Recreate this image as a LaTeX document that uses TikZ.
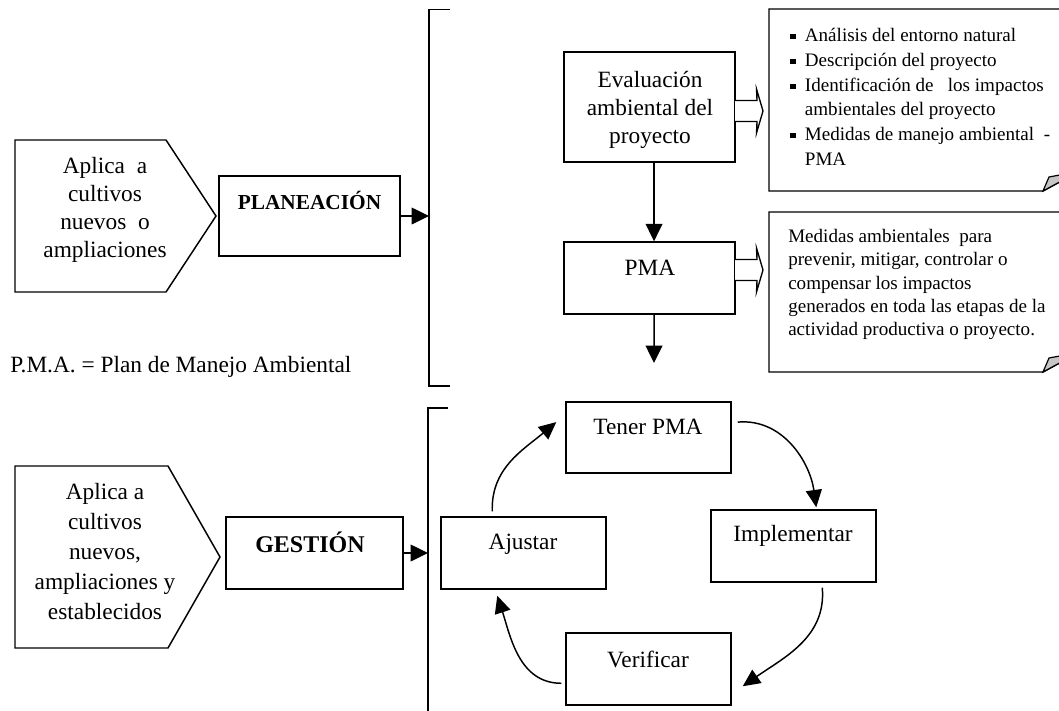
\documentclass[tikz,border=0pt]{standalone}
\usepackage{fontspec}
\setmainfont{Liberation Serif}
\usetikzlibrary{arrows.meta}
\begin{document}
\begin{tikzpicture}[x=0.75pt,y=-0.75pt,
  boxx/.style={draw, line width=1.1pt, inner sep=0pt},
  big/.style={font=\fontsize{17.5}{21}\selectfont, align=center, inner sep=0pt},
  small/.style={font=\fontsize{14.3}{17.5}\selectfont, align=left, inner sep=0pt},
  arr/.style={-{Triangle[length=13pt,width=12.5pt]}, line width=1.1pt},
  carr/.style={-{Triangle[length=13pt,width=12pt]}, line width=1.1pt},
  brk/.style={line width=1pt},
  hol/.pic={\draw[line width=1pt, fill=white] (0,-10.5) -- (22,-10.5) -- (21.5,-22) -- (28,0) -- (21.5,22) -- (22,10.5) -- (0,10.5);}
]
\useasboundingbox (0,0) rectangle (1059,710);

% ---------- PLANEACION row ----------
\draw[line width=1.1pt] (15,140) -- (166,140) -- (216,216) -- (166,292) -- (15,292) -- cycle;
\node[big] (pent1) at (105,210) {Aplica\ \ a\\cultivos\\nuevos\ \ o\\ampliaciones};
\node[boxx, minimum width=135.75pt, minimum height=60pt] (plan) at (309.5,216) {};
\node[inner sep=0pt, font=\fontsize{16}{19}\selectfont\bfseries] (plant) at (309.5,200) {PLANEACIÓN};
\coordinate (b1top) at (429,9.5);
\coordinate (b1bot) at (429,386);
\coordinate (b1mid) at (429,216);
\draw[brk] (450,9.5) -- (b1top) -- (b1bot) -- (450,386);
\draw[arr] (plan.east) -- (b1mid);

\node[big, anchor=west] (pmadef) at (10,367) {P.M.A. = Plan de Manejo Ambiental};

% evaluation chain
\node[boxx, minimum width=128.25pt, minimum height=82.5pt] (eval) at (649.5,107) {};
\node[big] (evalt) at (650,110) {Evaluación\\ambiental del\\proyecto};
\node[boxx, minimum width=128.25pt, minimum height=54pt] (pma) at (649.5,278) {};
\node[big] (pmat) at (650,268) {PMA};
\draw[arr] ([xshift=3.4pt]eval.south) -- ([xshift=3.4pt]pma.north);
\coordinate (pmaend) at (654,363);
\draw[arr] ([xshift=3.4pt]pma.south) -- (pmaend);

\pic at (735,111) {hol};
\pic at (735,270) {hol};

% note 1
\draw[line width=1.1pt] (1043,191) -- (769,191) -- (769,9) -- (1065,9) -- (1065,179) -- cycle;
\filldraw[fill=gray!45, line width=0.9pt] (1043,191) -- (1049,177) -- (1065,174) -- (1065,179) -- cycle;
\node[small, anchor=north west, font=\fontsize{14.3}{18.6}\selectfont] (list) at (790,28) {%
\makebox[11pt][l]{\rule[1.7pt]{4pt}{4pt}}Análisis del entorno natural\\
\makebox[11pt][l]{\rule[1.7pt]{4pt}{4pt}}Descripción del proyecto\\
\makebox[11pt][l]{\rule[1.7pt]{4pt}{4pt}}Identificación de\ \ \ los impactos\\
\hspace*{11pt}ambientales del proyecto\\
\makebox[11pt][l]{\rule[1.7pt]{4pt}{4pt}}Medidas de manejo ambiental\ \ -\\
\hspace*{11pt}PMA};

% note 2
\draw[line width=1.1pt] (1043,372) -- (769,372) -- (769,212) -- (1065,212) -- (1065,360) -- cycle;
\filldraw[fill=gray!45, line width=0.9pt] (1043,372) -- (1049,358) -- (1065,355) -- (1065,360) -- cycle;
\node[small, anchor=north west] (medid) at (788,229) {%
Medidas ambientales\ \ para\\
prevenir, mitigar, controlar o\\
compensar los impactos\\
generados en toda las etapas de la\\
actividad productiva o proyecto.};

% ---------- GESTION row ----------
\draw[line width=1.1pt] (15,466) -- (168,466) -- (220,557) -- (168,648) -- (15,648) -- cycle;
\node[big, font=\fontsize{17.5}{22.5}\selectfont] (pent2) at (105,552) {Aplica a\\cultivos\\nuevos,\\ampliaciones y\\establecidos};
\node[boxx, minimum width=132.75pt, minimum height=54pt] (gest) at (314.5,553) {};
\node[inner sep=0pt, font=\fontsize{18}{21}\selectfont\bfseries] (gestt) at (310,542) {GESTIÓN};
\coordinate (b2top) at (428,408);
\coordinate (b2bot) at (428,715);
\coordinate (b2mid) at (428,553);
\draw[brk] (448,408) -- (b2top) -- (b2bot);
\draw[arr] (gest.east) -- (b2mid);

% cycle
\node[boxx, minimum width=123.75pt, minimum height=53.5pt] (tener) at (648.5,437.5) {};
\node[big] (tenert) at (648,427) {Tener PMA};
\node[boxx, minimum width=123.75pt, minimum height=54pt] (impl) at (793.5,546) {};
\node[big] (implt) at (793,536) {Implementar};
\node[boxx, minimum width=123.75pt, minimum height=54pt] (ajus) at (523.5,553) {};
\node[big] (ajust) at (523,544) {Ajustar};
\node[boxx, minimum width=123.75pt, minimum height=54pt] (verif) at (648.5,669) {};
\node[big] (veriff) at (648,659) {Verificar};

\draw[carr] ([shift={(52,-5)}]ajus.north west) to[out=92, in=220] ([shift={(-9,21)}]tener.north west);
\draw[carr] ([shift={(6,21)}]tener.north east) to[out=5, in=98] ([shift={(106,-2)}]impl.north west);
\draw[carr] ([shift={(112,5)}]impl.south west) to[out=-85, in=35] ([shift={(11,54)}]verif.north east);
\draw[carr] ([shift={(-4,51)}]verif.north west) to[out=180, in=-72] ([shift={(57,6)}]ajus.south west);
\end{tikzpicture}
\end{document}
